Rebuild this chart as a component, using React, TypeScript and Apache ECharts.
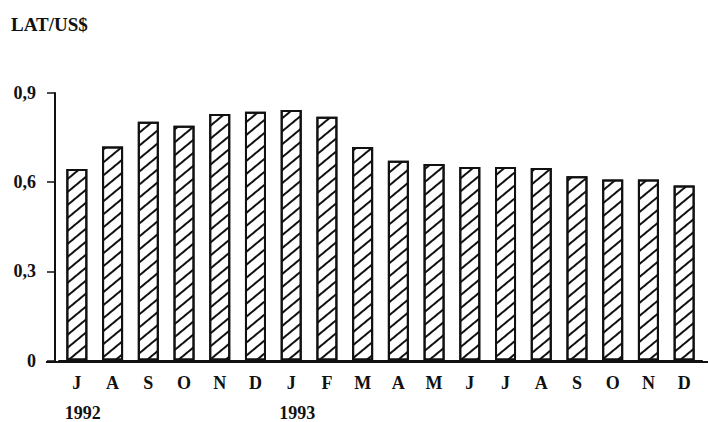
import React, { useEffect, useRef } from "react";
import * as echarts from "echarts";

const months = ["J", "A", "S", "O", "N", "D", "J", "F", "M", "A", "M", "J", "J", "A", "S", "O", "N", "D"];
const yearLabels: Record<number, string> = { 0: "1992", 6: "1993" };
const rates = [0.644, 0.72, 0.803, 0.79, 0.829, 0.837, 0.843, 0.82, 0.718, 0.672, 0.661, 0.651, 0.651, 0.648, 0.62, 0.609, 0.609, 0.589];
const yTicks = { min: 0, max: 0.9, interval: 0.3 };
const unitLabel = "LAT/US$";

const FONT = "'Liberation Serif', 'DejaVu Serif', serif";

export default function App() {
  const ref = useRef<HTMLDivElement>(null);
  useEffect(() => {
    document.body.style.margin = "0";
    if (!ref.current) return;
    const chart = echarts.init(ref.current, undefined, { renderer: "svg" });
    chart.setOption({
      animation: false,
      backgroundColor: "#fff",
      grid: { left: 59, right: 6, top: 93, bottom: 60, containLabel: false },
      graphic: [
        {
          type: "text",
          left: 11,
          top: 15,
          style: { text: unitLabel, font: `bold 19px ${FONT}`, fill: "#111" },
        },
        {
          type: "line",
          shape: { x1: 46, y1: 362, x2: 708, y2: 362 },
          style: { stroke: "#111", lineWidth: 2 },
        },
      ],
      xAxis: {
        type: "category",
        data: months,
        axisLine: { lineStyle: { color: "#111", width: 2 } },
        axisTick: { alignWithLabel: true, length: 6, lineStyle: { color: "#111", width: 2 } },
        axisLabel: {
          margin: 12,
          interval: 0,
          formatter: (v: string, i: number) =>
            yearLabels[i] ? `{m|${v}}\n{y|${yearLabels[i]}}` : `{m|${v}}`,
          rich: {
            m: { fontFamily: FONT, fontWeight: "bold", fontSize: 18, color: "#111", lineHeight: 21 },
            y: { fontFamily: FONT, fontWeight: "bold", fontSize: 18, color: "#111", lineHeight: 39, padding: [0, 0, 0, 12] },
          },
        },
      },
      yAxis: {
        type: "value",
        min: yTicks.min,
        max: yTicks.max,
        interval: yTicks.interval,
        offset: 4,
        splitLine: { show: false },
        axisLine: { show: true, lineStyle: { color: "#111", width: 2 } },
        axisTick: { show: true, length: 8, lineStyle: { color: "#111", width: 1.5 } },
        axisLabel: {
          margin: 19,
          fontFamily: FONT,
          fontWeight: "bold",
          fontSize: 18,
          color: "#111",
          formatter: (v: number) => (v === 0 ? "0" : v.toFixed(1).replace(".", ",")),
        },
      },
      series: [
        {
          type: "bar",
          data: rates,
          barWidth: 21,
          itemStyle: {
            color: "#fff",
            borderColor: "#111",
            borderWidth: 2,
            decal: {
              symbol: "rect",
              symbolSize: 1,
              color: "#111",
              dashArrayX: [1, 0],
              dashArrayY: [2, 7.6],
              rotation: -Math.PI * 0.22,
            },
          },
        },
      ],
    });
    return () => chart.dispose();
  }, []);
  return <div ref={ref} style={{ width: 708, height: 422 }} />;
}
